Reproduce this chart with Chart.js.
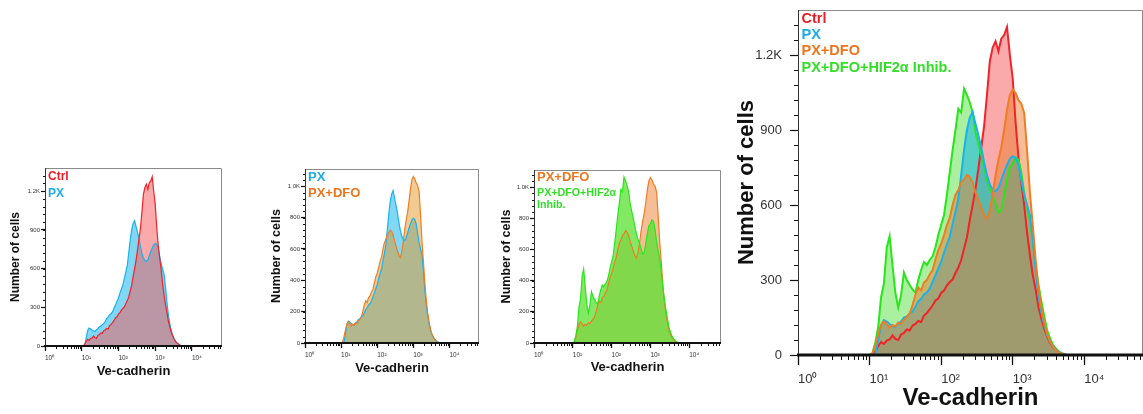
<!DOCTYPE html>
<html><head><meta charset="utf-8">
<script src="https://cdn.jsdelivr.net/npm/chart.js@4.4.0/dist/chart.umd.min.js"></script>
<style>
html,body{margin:0;padding:0;background:#fff;}
#wrap{position:relative;width:1143px;height:414px;overflow:hidden;background:#fff;}
canvas{position:absolute;}
</style></head><body>
<div id="wrap">
<canvas id="c1" width="226" height="256" style="left:0px;top:158px"></canvas>
<canvas id="c2" width="230" height="256" style="left:250px;top:158px"></canvas>
<canvas id="c3" width="244" height="256" style="left:480px;top:158px"></canvas>
<canvas id="c4" width="413" height="414" style="left:730px;top:0px"></canvas>
</div>
<script>
// x categories: log10 of Ve-cadherin intensity (histogram bin centres)
const logIntensity = [0.96,1.00,1.04,1.08,1.12,1.16,1.20,1.24,1.28,1.32,1.36,1.40,1.44,1.48,1.52,1.56,1.60,1.64,1.68,1.72,1.76,1.80,1.84,1.88,1.92,1.96,2.00,2.04,2.08,2.12,2.16,2.20,2.24,2.28,2.32,2.36,2.40,2.44,2.48,2.52,2.56,2.60,2.64,2.68,2.72,2.76,2.80,2.84,2.88,2.92,2.96,3.00,3.04,3.08,3.12,3.16,3.20,3.24,3.28,3.32,3.36,3.40,3.44,3.48,3.52,3.56,3.60,3.64,3.68,3.72,3.76,3.80,3.84];

// Number of cells per bin
const ctrl = [0,0,0,15,35,52,44,58,62,78,64,60,82,88,102,98,118,124,136,132,158,168,182,198,218,226,248,258,278,292,302,328,350,380,425,470,540,600,665,745,830,915,1040,1175,1230,1255,1215,1265,1280,1312,1200,1105,930,790,690,600,490,400,320,262,190,145,105,75,50,33,22,13,6,2,0,0,0];
const px = [0,0,0,3,60,118,140,134,124,116,112,126,134,150,154,166,174,192,214,224,242,250,266,292,318,346,372,410,442,472,525,572,625,720,820,900,950,972,925,880,830,770,720,682,662,655,668,700,732,760,785,795,788,760,700,640,600,560,460,340,240,170,120,80,55,35,22,13,7,3,0,0,0];
const pxDfo = [0,0,5,40,82,120,135,124,108,120,114,130,124,140,152,166,200,240,270,258,290,300,322,340,382,420,445,480,520,548,600,640,660,690,702,720,712,690,650,620,590,560,545,580,640,720,780,830,900,980,1040,1062,1048,1020,1005,968,820,650,520,380,270,190,130,85,55,35,20,10,5,2,0,0,0];
const pxDfoHif = [0,0,8,50,110,230,285,430,475,360,250,190,240,330,300,280,262,250,300,340,372,360,380,395,430,480,520,560,640,730,820,900,985,970,1065,1040,1010,970,890,845,800,750,700,665,640,605,570,580,640,700,750,765,790,780,730,650,590,540,460,355,280,215,155,100,68,42,27,15,7,3,0,0,0];

// axis tick labels
const xTickValues = [0,1,2,3,4];
const xTickLabels = ['10\u2070','10\u00B9','10\u00B2','10\u00B3','10\u2074'];
const yTicksA = [0,300,600,900,1200];
const yTickLabelsA = ['0','300','600','900','1.2K'];
const yTicksB = [0,200,400,600,800,1000];
const yTickLabelsB = ['0','200','400','600','800','1.0K'];

// legend texts
const legend1 = ['Ctrl','PX'];
const legend2 = ['PX','PX+DFO'];
const legend3 = ['PX+DFO','PX+DFO+HIF2\u03B1','Inhib.'];
const legend4 = ['Ctrl','PX','PX+DFO','PX+DFO+HIF2\u03B1 Inhib.'];

const FONT = "'Liberation Sans', Arial, Helvetica, sans-serif";
const COL = {
  red:   {line:'rgb(240,35,40)',  fill:'rgba(245,85,85,0.5)',  text:'rgb(232,30,38)'},
  blue:  {line:'rgb(25,178,236)', fill:'rgba(5,175,235,0.5)',  text:'rgb(28,172,230)'},
  orange:{line:'rgb(238,125,35)', fill:'rgba(235,125,45,0.5)', text:'rgb(235,118,30)'},
  green: {line:'rgb(40,230,25)',  fill:'rgba(85,225,65,0.5)',  text:'rgb(50,222,40)'}
};

const framePlugin = {
  id: 'frame',
  afterDatasetsDraw(chart, args, o) {
    const {ctx, chartArea: a} = chart;
    const xs = chart.scales.x, ys = chart.scales.y;
    ctx.save();
    ctx.strokeStyle = '#8a8a8a'; ctx.lineWidth = 1;
    ctx.beginPath();
    ctx.moveTo(a.left + 0.5, a.bottom); ctx.lineTo(a.left + 0.5, a.top + 0.5);
    ctx.lineTo(a.right - 0.5, a.top + 0.5); ctx.lineTo(a.right - 0.5, a.bottom);
    ctx.stroke();
    ctx.strokeStyle = '#333';
    ctx.beginPath(); ctx.moveTo(a.left + 0.5, a.bottom); ctx.lineTo(a.left + 0.5, a.top); ctx.stroke();
    ctx.strokeStyle = '#111'; ctx.lineWidth = 1;
    for (let d = 0; d <= 4; d++) {
      for (let k = 2; k <= 9; k++) {
        const v = d + Math.log10(k);
        if (v > xs.max) continue;
        const p = Math.round(xs.getPixelForValue(v)) + 0.5;
        ctx.beginPath(); ctx.moveTo(p, a.bottom); ctx.lineTo(p, a.bottom + o.xMinorLen); ctx.stroke();
      }
    }
    for (let v = o.yMinorStep; v < ys.max; v += o.yMinorStep) {
      const p = Math.round(ys.getPixelForValue(v)) + 0.5;
      ctx.beginPath(); ctx.moveTo(a.left, p); ctx.lineTo(a.left - o.yMinorLen, p); ctx.stroke();
    }
    ctx.strokeStyle = '#111'; ctx.lineWidth = o.axisWidth;
    ctx.beginPath(); ctx.moveTo(a.left - 1, a.bottom); ctx.lineTo(a.right, a.bottom); ctx.stroke();
    ctx.textBaseline = 'alphabetic'; ctx.textAlign = 'left';
    o.legend.forEach(l => {
      ctx.font = 'bold ' + l.size + 'px ' + FONT;
      ctx.fillStyle = l.color;
      ctx.fillText(l.text, a.left + o.legendX, a.top + l.base);
    });
    ctx.restore();
  }
};

function makeChart(id, p) {
  const yTicks = p.yTicks, yLabels = p.yLabels;
  return new Chart(document.getElementById(id), {
    type: 'line',
    data: {
      datasets: p.series.map(s => ({
        label: s.name,
        data: logIntensity.map((x, i) => ({x: x, y: s.values[i]})),
        borderColor: s.col.line,
        backgroundColor: s.fill || s.col.fill,
        borderWidth: p.lineWidth,
        pointRadius: 0,
        fill: 'origin',
        tension: 0,
        order: s.order
      }))
    },
    options: {
      responsive: false, animation: false, devicePixelRatio: 1,
      layout: {padding: {top: p.padTop, right: p.padRight, left: 0, bottom: 0}},
      plugins: {
        legend: {display: false}, tooltip: {enabled: false},
        filler: {drawTime: 'beforeDatasetsDraw'},
        frame: {legend: p.legend, legendX: p.legendX, xMinorLen: p.xMinorLen, yMinorLen: p.yMinorLen,
                yMinorStep: p.yMinorStep, axisWidth: p.axisWidth}
      },
      scales: {
        x: {
          type: 'linear', min: 0, max: 4.82,
          afterFit: s => { s.height = p.xAxisH; s.paddingLeft = 0; s.paddingRight = 0; },
          afterBuildTicks: s => { s.ticks = xTickValues.map(v => ({value: v})); },
          ticks: {
            callback: v => xTickLabels[xTickValues.indexOf(v)],
            align: 'start', autoSkip: false, maxRotation: 0, includeBounds: false,
            font: {family: FONT, size: p.xTickSize}, color: '#333', padding: p.xTickPad
          },
          grid: {drawOnChartArea: false, drawTicks: true, tickLength: p.xMajorLen, tickColor: '#111', tickWidth: 1.3},
          border: {display: false},
          title: {display: true, text: 'Ve-cadherin', color: '#111',
                  font: {family: FONT, size: p.xTitleSize, weight: 'bold'},
                  padding: {top: 0, bottom: p.xTitlePad}}
        },
        y: {
          type: 'linear', min: 0, max: p.yMax,
          afterFit: s => { s.width = p.yAxisW; s.paddingTop = 0; s.paddingBottom = 0; },
          afterBuildTicks: s => { s.ticks = yTicks.map(v => ({value: v})); },
          ticks: {
            callback: v => yLabels[yTicks.indexOf(v)],
            autoSkip: false, includeBounds: false,
            font: {family: FONT, size: p.yTickSize}, color: '#333', padding: p.yTickPad
          },
          grid: {drawOnChartArea: false, drawTicks: true, tickLength: p.yMajorLen, tickColor: '#111', tickWidth: 1.2},
          border: {display: false},
          title: {display: true, text: 'Number of cells', color: '#111',
                  font: {family: FONT, size: p.yTitleSize, weight: 'bold'},
                  padding: {top: p.yTitlePad, bottom: 0}}
        }
      }
    },
    plugins: [framePlugin]
  });
}

const small = {lineWidth: 1.2, xTickSize: 6.5, yTickSize: 6, xTitleSize: 13, xMajorLen: 5, xMinorLen: 3,
               yMajorLen: 4, yMinorLen: 2, xTickPad: 3, yTickPad: 1, axisWidth: 2, legendX: 3};

makeChart('c1', Object.assign({}, small, {
  padTop: 10, padRight: 4, yAxisW: 45, xAxisH: 68, yMax: 1380,
  yTicks: yTicksA, yLabels: yTickLabelsA, yMinorStep: 60,
  yTitleSize: 12, yTitlePad: 8, xTitlePad: 35,
  series: [{name: legend1[0], values: ctrl, col: COL.red, order: 0},
           {name: legend1[1], values: px, col: COL.blue, order: 1}],
  legend: [{text: legend1[0], color: COL.red.text, size: 12, base: 12},
           {text: legend1[1], color: COL.blue.text, size: 12, base: 28.5}]
}));

makeChart('c2', Object.assign({}, small, {
  padTop: 11, padRight: 1, yAxisW: 55, xAxisH: 71, yMax: 1110,
  yTicks: yTicksB, yLabels: yTickLabelsB, yMinorStep: 40,
  yTitleSize: 12.5, yTitlePad: 19, xTitlePad: 38,
  series: [{name: legend2[1], values: pxDfo, col: COL.orange, fill: 'rgba(230,152,40,0.5)', order: 0},
           {name: legend2[0], values: px, col: COL.blue, order: 1}],
  legend: [{text: legend2[0], color: COL.blue.text, size: 13, base: 11.7},
           {text: legend2[1], color: COL.orange.text, size: 13, base: 27.7}]
}));

makeChart('c3', Object.assign({}, small, {
  padTop: 12, padRight: 3, yAxisW: 54, xAxisH: 71, yMax: 1110,
  yTicks: yTicksB, yLabels: yTickLabelsB, yMinorStep: 40,
  yTitleSize: 12.5, yTitlePad: 19, xTitlePad: 39,
  series: [{name: legend3[1], values: pxDfoHif, col: COL.green, fill: 'rgba(90,225,50,0.75)', order: 0},
           {name: legend3[0], values: pxDfo, col: COL.orange, order: 1}],
  legend: [{text: legend3[0], color: COL.orange.text, size: 13, base: 10.7},
           {text: legend3[1], color: COL.green.text, size: 10.7, base: 26},
           {text: legend3[2], color: COL.green.text, size: 10.7, base: 38}]
}));

makeChart('c4', {
  lineWidth: 2, xTickSize: 13, yTickSize: 13, xTitleSize: 24, xMajorLen: 10, xMinorLen: 5,
  yMajorLen: 8, yMinorLen: 4, xTickPad: 7, yTickPad: 8, axisWidth: 3, legendX: 3.5,
  padTop: 10, padRight: 0, yAxisW: 68, xAxisH: 59, yMax: 1380,
  yTicks: yTicksA, yLabels: yTickLabelsA, yMinorStep: 60,
  yTitleSize: 22, yTitlePad: 3.5, xTitlePad: 1.5,
  series: [{name: legend4[2], values: pxDfo, col: COL.orange, order: 0},
           {name: legend4[1], values: px, col: COL.blue, order: 1},
           {name: legend4[3], values: pxDfoHif, col: COL.green, order: 2},
           {name: legend4[0], values: ctrl, col: COL.red, order: 3}],
  legend: [{text: legend4[0], color: COL.red.text, size: 14.5, base: 13},
           {text: legend4[1], color: COL.blue.text, size: 14.5, base: 29},
           {text: legend4[2], color: COL.orange.text, size: 14.5, base: 45},
           {text: legend4[3], color: COL.green.text, size: 14.5, base: 61.5}]
});
</script>
</body></html>
